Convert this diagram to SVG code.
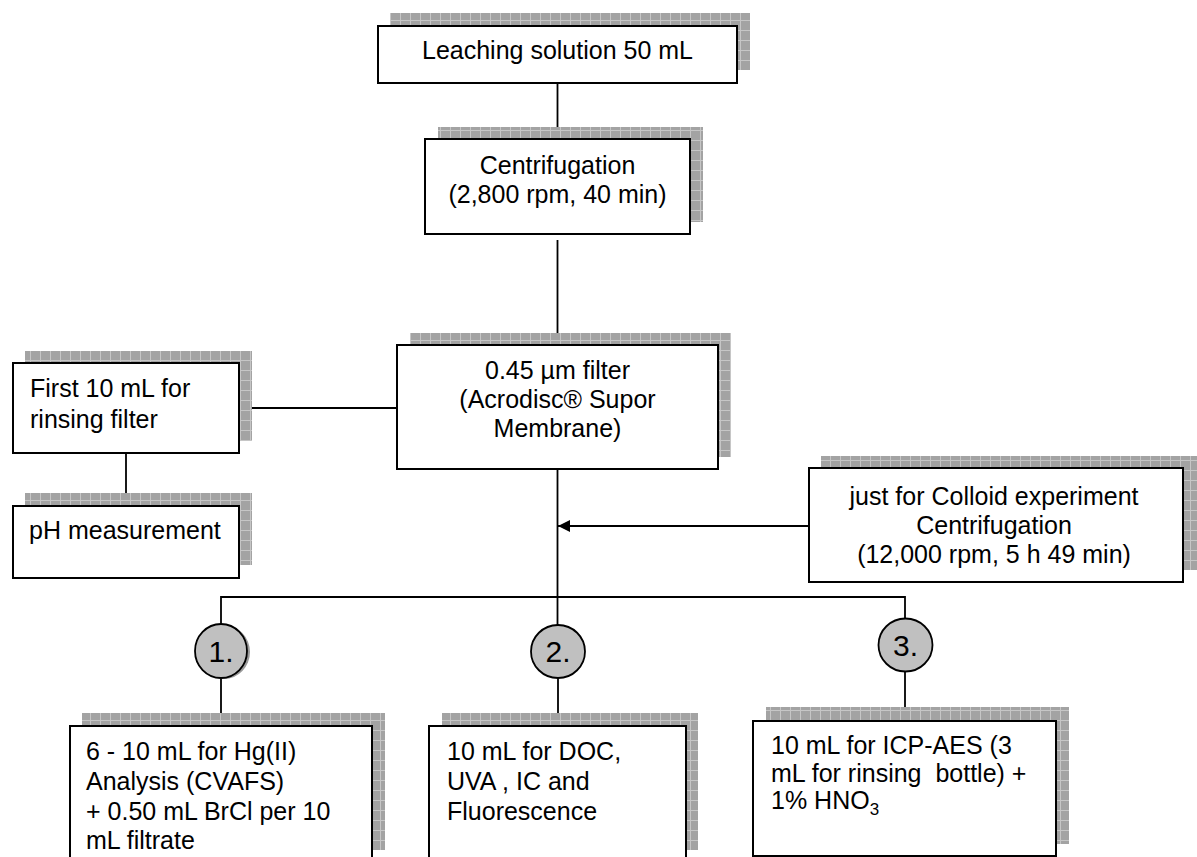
<svg xmlns="http://www.w3.org/2000/svg" width="1197" height="857" viewBox="0 0 1197 857">
<defs>
<pattern id="hatch" patternUnits="userSpaceOnUse" width="10" height="10">
<rect width="10" height="10" fill="#a3a3a3"/>
<path d="M0.5 0V10M0 0.5H10" stroke="#c6c6c6" stroke-width="1"/>
</pattern>
<marker id="arr" markerUnits="userSpaceOnUse" markerWidth="14" markerHeight="12" refX="12" refY="6" orient="auto">
<path d="M0 0L12 6L0 12Z" fill="#000"/>
</marker>
<style>
.box{fill:#fff;stroke:#000;stroke-width:2}
.sh{fill:url(#hatch)}
.t{font-family:"Liberation Sans",Arial,sans-serif;font-size:25px;fill:#000;white-space:pre}
.c{text-anchor:middle}
.n{font-size:30px}
.ln{fill:none;stroke:#000;stroke-width:1.8}
.circ{fill:#c0c0c0;stroke:#000;stroke-width:1.8}
</style>
</defs>
<rect width="1197" height="857" fill="#fff"/>

<g id="connectors">
<path class="ln" d="M557.5 83V139"/>
<path class="ln" d="M557.5 240V345"/>
<path class="ln" d="M239 408H397"/>
<path class="ln" d="M126 453V506"/>
<path class="ln" d="M557.5 469V625"/>
<path class="ln" d="M809 526H558" marker-end="url(#arr)"/>
<path class="ln" d="M221 624V597H905V618"/>
<path class="ln" d="M221 678V726"/>
<path class="ln" d="M558 678V726"/>
<path class="ln" d="M905 672V721"/>
</g>

<g id="leaching">
<rect class="sh" x="390" y="13" width="360" height="57"/>
<rect class="box" x="378" y="26" width="359" height="57"/>
<text class="t c" x="557.5" y="59">Leaching solution 50 mL</text>
</g>

<g id="centrifugation">
<rect class="sh" x="438" y="127" width="265" height="95"/>
<rect class="box" x="425" y="139" width="265" height="95"/>
<text class="t c" x="557.5" y="174">Centrifugation</text>
<text class="t c" x="557.5" y="203">(2,800 rpm, 40 min)</text>
</g>

<g id="filter">
<rect class="sh" x="410" y="333" width="321" height="124"/>
<rect class="box" x="397" y="345" width="321" height="124"/>
<text class="t c" x="557.5" y="379">0.45 µm filter</text>
<text class="t c" x="557.5" y="408">(Acrodisc® Supor</text>
<text class="t c" x="557.5" y="437">Membrane)</text>
</g>

<g id="rinsing">
<rect class="sh" x="25" y="351" width="227" height="90"/>
<rect class="box" x="13" y="363" width="226" height="90"/>
<text class="t" x="30" y="397">First 10 mL for</text>
<text class="t" x="30" y="428">rinsing filter</text>
</g>

<g id="ph">
<rect class="sh" x="25" y="493" width="227" height="72"/>
<rect class="box" x="13" y="506" width="226" height="72"/>
<text class="t" x="29" y="539">pH measurement</text>
</g>

<g id="colloid">
<rect class="sh" x="821" y="456" width="376" height="114"/>
<rect class="box" x="809" y="468" width="374" height="114"/>
<text class="t c" x="994" y="505">just for Colloid experiment</text>
<text class="t c" x="994" y="534">Centrifugation</text>
<text class="t c" x="994" y="563">(12,000 rpm, 5 h 49 min)</text>
</g>

<g id="step1">
<ellipse cx="224" cy="652" rx="26" ry="27" fill="#9a9a9a"/>
<ellipse class="circ" cx="221" cy="651" rx="26" ry="27"/>
<text class="t c n" x="221" y="662">1.</text>
</g>

<g id="step2">
<ellipse class="circ" cx="558" cy="651.5" rx="27" ry="26.5"/>
<text class="t c n" x="558" y="662">2.</text>
</g>

<g id="step3">
<ellipse class="circ" cx="905.5" cy="645" rx="27" ry="26.5"/>
<text class="t c n" x="905.5" y="656">3.</text>
</g>

<g id="hg">
<rect class="sh" x="82" y="713" width="303" height="137"/>
<rect class="box" x="70" y="726" width="302" height="150"/>
<text class="t" x="86" y="760">6 - 10 mL for Hg(II)</text>
<text class="t" x="86" y="790">Analysis (CVAFS)</text>
<text class="t" x="86" y="820">+ 0.50 mL BrCl per 10</text>
<text class="t" x="86" y="849">mL filtrate</text>
</g>

<g id="doc">
<rect class="sh" x="442" y="713" width="256" height="137"/>
<rect class="box" x="429" y="726" width="257" height="150"/>
<text class="t" x="447" y="760">10 mL for DOC,</text>
<text class="t" x="447" y="790">UVA , IC and</text>
<text class="t" x="447" y="820">Fluorescence</text>
</g>

<g id="icp">
<rect class="sh" x="766" y="707" width="303" height="137"/>
<rect class="box" x="753" y="721" width="303" height="135"/>
<text class="t" x="771" y="754">10 mL for ICP-AES (3</text>
<text class="t" x="771" y="782">mL for rinsing  bottle) +</text>
<text class="t" x="771" y="809">1% HNO<tspan font-size="17" dy="6">3</tspan></text>
</g>
</svg>
